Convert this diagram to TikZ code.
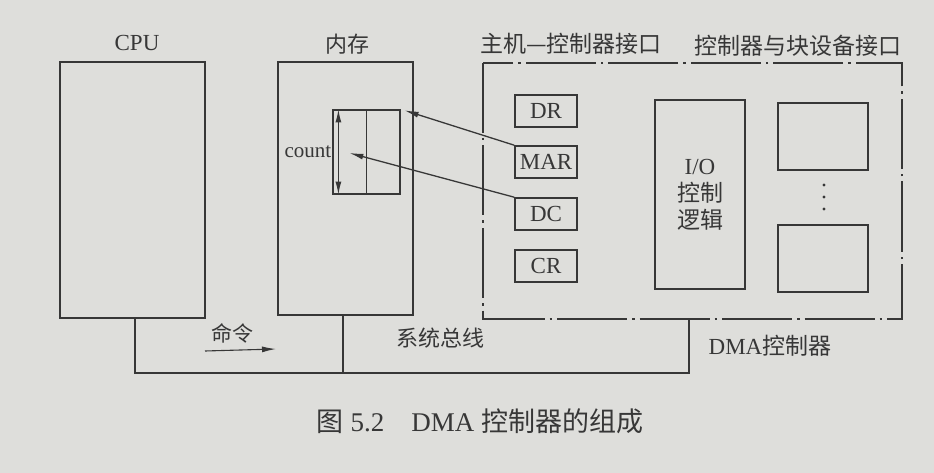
\documentclass[tikz,border=0pt]{standalone}
\usepackage{fontspec}
\setmainfont{Liberation Serif}
\newfontfamily\cjk{Noto Sans CJK SC}
\usepackage{xcolor}
\usetikzlibrary{arrows.meta,calc}
\definecolor{paper}{RGB}{222,222,219}
\definecolor{ink}{RGB}{55,55,55}

\begin{document}
\begin{tikzpicture}[
  x=1pt,y=-1pt,
  font=\fontsize{23}{26}\selectfont,
  box/.style={draw=ink,line width=1.6pt,inner sep=0pt},
  reg/.style={box,minimum width=62pt,minimum height=32pt,text=ink},
  heading/.style={text=ink,inner sep=0pt},
  dashdot/.style={draw=ink,line width=1.3pt,dash pattern=on 70pt off 5pt on 2.5pt off 5pt},
  flow/.style={-{Latex[length=14pt,width=6pt]},draw=ink,line width=1.3pt},
  bus/.style={draw=ink,line width=1.4pt}
]
\fill[paper] (0,0) rectangle (934,473);
\path[use as bounding box] (0,0) rectangle (934,473);
% processor and memory
\node[box,minimum width=145pt,minimum height=256pt] (cpu) at (132.5,190) {};
\node[box,minimum width=135pt,minimum height=253pt] (mem) at (345.5,188.5) {};
\node[heading] at (137,43) {CPU};
\node[heading,font=\cjk\fontsize{22}{24}\selectfont] at (347,44) {内存};
\node[box,line width=1.2pt,minimum width=67pt,minimum height=84pt] (block) at (366.5,152) {};
\draw[ink,line width=1.2pt] (block.north) -- (block.south);
\draw[{Latex[length=13pt,width=6pt]}-{Latex[length=13pt,width=6pt]},ink,line width=1.2pt]
  ($(block.north west)+(6,0)$) -- ($(block.south west)+(6,0)$);
\coordinate (cnt) at ($(block.west)+(17,1)$);
\node[heading,anchor=east,font=\fontsize{21}{24}\selectfont] (count) at ($(block.west)+(-1,0)$) {count};
% dma controller
\path[dashdot] (483,63) rectangle (902,319);
\node[heading,font=\cjk\fontsize{23}{26}\selectfont] at (571,44) {主机—控制器接口};
\node[heading,font=\cjk\fontsize{23}{26}\selectfont] at (798,46) {控制器与块设备接口};
\node[reg] (dr) at (546,111) {DR};
\node[reg] (mar) at (546,162) {MAR};
\node[reg] (dc) at (546,214) {DC};
\node[reg] (cr) at (546,266) {CR};
\node[box,minimum width=90pt,minimum height=189pt,align=center,text=ink] (iolog) at (700,194.5)
  {I/O\\[1pt]{\cjk 控制}\\[1pt]{\cjk 逻辑}};
\node[box,minimum width=90pt,minimum height=67pt] (dev1) at (823,136.5) {};
\node[box,minimum width=90pt,minimum height=67pt] (dev2) at (823,258.5) {};
\foreach \y in {185,197,209}
  \fill[ink] (824,\y) circle (1.7pt);
\node[heading] at (770,346) {DMA{\cjk 控制器}};
% address and count transfer
\draw[flow] (mar.north west) -- ($(block.north east)+(4,1)$);
\draw[flow] (dc.north west) -- (cnt);
% system bus
\coordinate (busl) at (135,373);
\coordinate (busm) at (343,373);
\coordinate (busr) at (689,373);
\draw[bus] (cpu.south -| busl) -- (busl) -- (busr) -- (busr |- 483,319);
\draw[bus] (mem.south -| busm) -- (busm);
\node[heading,font=\cjk\fontsize{21}{24}\selectfont] (cmd) at (232,333) {命令};
\draw[flow,line width=1.1pt] (205,351) -- (276,349);
\node[heading,font=\cjk\fontsize{22}{24}\selectfont] (sysbus) at (440,338) {系统总线};
% caption
\node[heading,font=\fontsize{27}{30}\selectfont] (cap) at (480,421)
  {{\cjk 图} 5.2\quad DMA {\cjk 控制器的组成}};
\end{tikzpicture}
\end{document}
